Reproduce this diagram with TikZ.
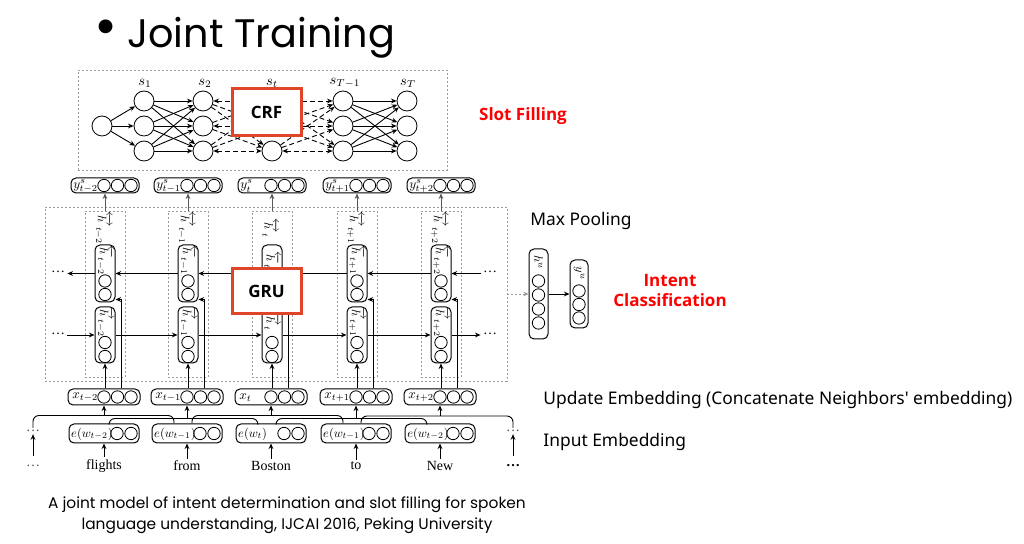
\documentclass[tikz,border=0pt]{standalone}
\usepackage{amsmath}
\usepackage{fontspec}
\setmainfont{Liberation Serif}
\newfontfamily\titlefont{Poppins}
\newfontfamily\uifont{Noto Sans}
\newfontfamily\boldfont{Open Sans}
\usetikzlibrary{arrows.meta}
\definecolor{crfred}{HTML}{E0452A}
\definecolor{slotred}{HTML}{FF0000}
\definecolor{boxgray}{HTML}{9A9A9A}
\begin{document}
\begin{tikzpicture}[x=0.5pt,y=-0.5pt,
  sc/.style={circle,draw,minimum size=10pt,inner sep=0pt,line width=0.4pt},
  smc/.style={circle,draw,minimum size=6.2pt,inner sep=0pt,line width=0.4pt},
  ar/.style={-{Stealth[length=2.8pt,width=2.4pt]},line width=0.45pt},
  dar/.style={ar,dash pattern=on 2.5pt off 1.5pt},
  dbar/.style={{Stealth[length=2.8pt,width=2.4pt]}-{Stealth[length=2.8pt,width=2.4pt]},line width=0.45pt,dash pattern=on 2.5pt off 1.5pt},
  rb/.style={draw,rounded corners=2.5pt,line width=0.5pt,inner sep=0pt},
  gbox/.style={draw=boxgray,dash pattern=on 1pt off 1pt,line width=0.35pt,inner sep=0pt},
  redbox/.style={draw=crfred,line width=1.5pt,fill=white,minimum width=34.5pt,font=\boldfont\bfseries\fontsize{8.5}{10}\selectfont},
  lab/.style={inner sep=0pt,font=\fontsize{10}{12}\selectfont,scale=0.66,transform shape},
  elab/.style={inner sep=0pt,font=\fontsize{10}{12}\selectfont,scale=0.62,transform shape},
  rlab/.style={inner sep=0pt,rotate=-90,font=\fontsize{10}{12}\selectfont,scale=0.62,transform shape},
  slab/.style={inner sep=0pt,font=\fontsize{10}{12}\selectfont,scale=0.72,transform shape},
  word/.style={inner sep=1pt,font=\fontsize{7}{8}\selectfont},
  ui/.style={font=\uifont\fontsize{8.7}{10}\selectfont,inner sep=0pt},
  redtxt/.style={font=\boldfont\bfseries\fontsize{8.5}{10}\selectfont,text=slotred,inner sep=0pt,align=center},
]
\useasboundingbox (0,0) rectangle (1024,544);

% ---------- title ----------
\node[font=\titlefont\fontsize{28}{30}\selectfont,inner sep=0pt] (bul) at (106,33) {\textbullet};
\node[font=\titlefont\fontsize{19.9}{22}\selectfont,inner sep=0pt,anchor=base west] (title) at (127,48) {Joint Training};

% ---------- CRF part ----------
\node[gbox,minimum width=184.5pt,minimum height=50pt] (crfarea) at (262.5,120) {};
\node[sc] (s0) at (102,126) {};
\foreach \n/\x in {a/144,b/203,t/272,c/343,d/407}{
  \foreach \r/\y in {1/101,2/126,3/151}{
    \node[sc] (\n\r) at (\x,\y) {};
  }
}
\node[slab] (ls1) at (145,83) {$s_1$};
\node[slab] (ls2) at (205,83) {$s_2$};
\node[slab] (lst) at (272,83) {$s_t$};
\node[slab] (lsT1) at (345,83) {$s_{T-1}$};
\node[slab] (lsT) at (408,83) {$s_T$};
\foreach \r in {1,2,3}{\draw[ar] (s0) -- (a\r);}
\foreach \i in {1,2,3}{
  \foreach \j in {1,2,3}{
    \draw[ar] (a\i) -- (b\j);
    \draw[ar] (c\i) -- (d\j);
    \ifnum\i=\j
      \draw[dbar] (b\i) -- (t\j);
      \draw[dbar] (t\i) -- (c\j);
    \else
      \draw[dar] (b\i) -- (t\j);
      \draw[dar] (t\i) -- (c\j);
    \fi
  }
}
\node[redbox,minimum height=23.5pt] (crf) at (266.5,112.5) {CRF};
\node[redtxt] (slot) at (523,116) {Slot Filling};

% ---------- big GRU dashed area ----------
\node[gbox,minimum width=231pt,minimum height=87pt] (big) at (276,294) {};

% ---------- columns ----------
\foreach \i/\c/\lab in {1/105/{t-2},2/188/{t-1},3/272/{t},4/357/{t+1},5/441/{t+2}}{
  \node[gbox,minimum width=20pt,minimum height=83pt] (col\i) at (\c,294) {};
  \node[rlab] (hl\i) at ({\c-2},228) {$\overleftrightarrow{h}_{\lab}$};
  % backward box
  \node[rb,minimum width=10pt,minimum height=28.5pt] (hb\i) at (\c,273.5) {};
  \node[rlab] (hbl\i) at (\c,260) {$\overleftarrow{h}_{\lab}$};
  \node[smc] (hba\i) at (\c,281) {};
  \node[smc] (hbb\i) at (\c,294.5) {};
  % forward box
  \node[rb,minimum width=10pt,minimum height=28pt] (hf\i) at (\c,335) {};
  \node[rlab] (hfl\i) at (\c,322) {$\overrightarrow{h}_{\lab}$};
  \node[smc] (hfa\i) at (\c,342.5) {};
  \node[smc] (hfb\i) at (\c,356.5) {};
  % y^s box
  \node[rb,minimum width=34pt,minimum height=7.5pt] (ys\i) at (\c,185.5) {};
  \node[lab,anchor=west] (ysl\i) at ({\c-32},186) {$y^s_{\lab}$};
  \node[smc] (ysa\i) at ({\c-1},185.5) {};
  \node[smc] (ysb\i) at ({\c+12.5},185.5) {};
  \node[smc] (ysc\i) at ({\c+26},185.5) {};
  \draw[ar,draw=black!65] (col\i.north) -- (ys\i.south);
  % x box
  \node[rb,minimum width=36pt,minimum height=8pt] (xb\i) at ({\c-1},397) {};
  \node[lab,anchor=west] (xl\i) at ({\c-33},397.5) {$x_{\lab}$};
  \node[smc] (xa\i) at ({\c-1},397) {};
  \node[smc] (xbb\i) at ({\c+12.5},397) {};
  \node[smc] (xc\i) at ({\c+26},397) {};
  \draw[ar] (hf\i.south |- xb\i.north) -- (hf\i.south);
  \draw[ar] ([xshift=8pt]hf\i.south |- xb\i.north) |- ([yshift=1.5pt]hb\i.south east);
}
% e boxes
\foreach \i/\c/\lab in {1/105/{t-2},2/188/{t-1},3/272/{t},4/357/{t-1},5/441/{t-2}}{
  \node[rb,minimum width=35pt,minimum height=9.5pt] (eb\i) at ({\c-1},433.5) {};
  \node[elab,anchor=west] (el\i) at ({\c-34},434) {$e(w_{\lab})$};
  \node[smc] (ea\i) at ({\c+12},433.5) {};
  \node[smc] (ebb\i) at ({\c+26},433.5) {};
}

% words
\node[word] (w1) at (104,466) {flights};
\node[word] (w2) at (187,466) {from};
\node[word] (w3) at (271,466) {Boston};
\node[word] (w4) at (356,466) {to};
\node[word] (w5) at (440,466) {New};
\foreach \i in {1,...,5}{\draw[ar] (w\i) -- (eb\i.south -| w\i);}
\node[word,text=black!70] (ld1) at (33,431) {\dots};
\node[word,text=black!70] (ld2) at (33,466) {\dots};
\node[word,text=black!70] (rd1) at (513,431) {\dots};
\node[word] (rd2) at (513,466) {\textbf{\dots}};
\draw[ar] (33,456) -- (ld1);
\draw[ar] (513,456) -- (rd1);

% concatenation brackets
\coordinate (br1) at (104,415.5);
\coordinate (br2) at (187,418.5);
\coordinate (br3) at (271,415.5);
\coordinate (br4) at (356,418.5);
\coordinate (br5) at (440,416);
\draw[line width=0.45pt,rounded corners=3pt] (ld1.north) |- (br1) -| ([xshift=-6.5pt]eb2.north);
\draw[line width=0.45pt,rounded corners=3pt] ([xshift=2.5pt]eb1.north) |- (br2) -| ([xshift=-6.5pt]eb3.north);
\draw[line width=0.45pt,rounded corners=3pt] ([xshift=2.5pt]eb2.north) |- (br3) -| ([xshift=-6.5pt]eb4.north);
\draw[line width=0.45pt,rounded corners=3pt] ([xshift=2.5pt]eb3.north) |- (br4) -| ([xshift=-6.5pt]eb5.north);
\draw[line width=0.45pt,rounded corners=3pt] ([xshift=2.5pt]eb4.north) |- (br5) -| (rd1.north);
\foreach \i in {1,...,5}{\draw[ar] (br\i) -- (br\i |- xb\i.south);}

% horizontal recurrent arrows
\node[word] (ldb) at (58,272) {\dots};
\node[word] (ldf) at (58,334) {\dots};
\node[word] (rdb) at (490,272) {\dots};
\node[word] (rdf) at (490,334) {\dots};
\draw[ar] (hb1.west) -- (ldb.east |- hb1.west);
\draw[ar] (ldf.east |- hf1.west) -- (hf1.west);
\draw[ar] (rdb.west |- hb5.east) -- (hb5.east);
\draw[ar] (hf5.east) -- (rdf.west |- hf5.east);
\foreach \i/\j in {1/2,2/3,3/4,4/5}{
  \draw[ar] (hb\j.west) -- (hb\i.east);
  \draw[ar] (hf\i.east) -- (hf\j.west);
}
\node[redbox,minimum height=22.5pt] (gru) at (266.5,291.5) {GRU};

% ---------- intent part ----------
\node[rb,minimum width=9.5pt,minimum height=45pt] (hu) at (538.5,294) {};
\node[rlab] (hul) at (538.5,262) {$h^u$};
\foreach \k/\y in {1/281,2/295,3/309,4/323}{\node[smc] (hu\k) at (538.5,\y) {};}
\node[rb,minimum width=9pt,minimum height=34pt] (yu) at (579,294) {};
\node[rlab] (yul) at (579,273) {$y^u$};
\foreach \k/\y in {1/291,2/304.5,3/318}{\node[smc] (yu\k) at (579,\y) {};}
\draw[-{Stealth[length=2.5pt,width=2.2pt]},draw=boxgray,dash pattern=on 1pt off 1pt,line width=0.4pt] (big.east) -- (hu.west);
\draw[ar] (hu.east) -- (yu.west);
\node[ui] (mp) at (581,221) {Max Pooling};
\node[redtxt] (ic) at (670,291) {Intent\\Classification};
\node[ui,anchor=west] (ue) at (543,400) {Update Embedding (Concatenate Neighbors' embedding)};
\node[ui,anchor=west] (ie) at (543,442) {Input Embedding};

% ---------- caption ----------
\node[font=\titlefont\fontsize{7.7}{10.5}\selectfont,align=center,inner sep=0pt] (cap) at (287,515.5)
  {A joint model of intent determination and slot filling for spoken\\language understanding, IJCAI 2016, Peking University};
\end{tikzpicture}
\end{document}
